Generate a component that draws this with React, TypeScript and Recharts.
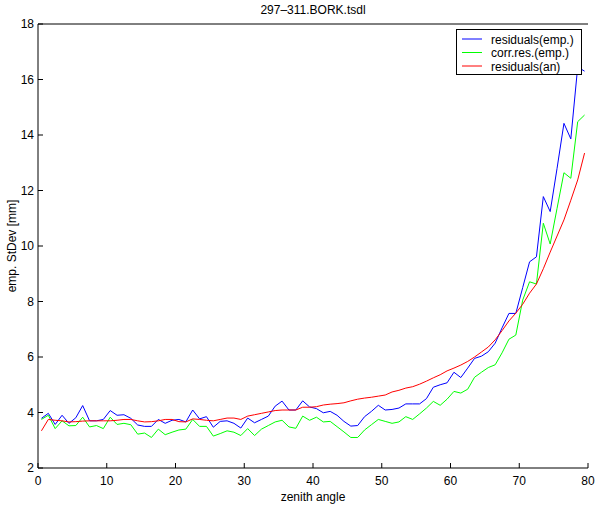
import React from "react";
import {
  LineChart,
  Line,
  XAxis,
  YAxis,
  Legend,
  Label,
} from "recharts";

// zenith angle of each sample (deg)
const angles = [
  0.5, 1.5, 2.5, 3.5, 4.5, 5.5, 6.5, 7.5, 8.5, 9.5,
  10.5, 11.5, 12.5, 13.5, 14.5, 15.5, 16.5, 17.5, 18.5, 19.5,
  20.5, 21.5, 22.5, 23.5, 24.5, 25.5, 26.5, 27.5, 28.5, 29.5,
  30.5, 31.5, 32.5, 33.5, 34.5, 35.5, 36.5, 37.5, 38.5, 39.5,
  40.5, 41.5, 42.5, 43.5, 44.5, 45.5, 46.5, 47.5, 48.5, 49.5,
  50.5, 51.5, 52.5, 53.5, 54.5, 55.5, 56.5, 57.5, 58.5, 59.5,
  60.5, 61.5, 62.5, 63.5, 64.5, 65.5, 66.5, 67.5, 68.5, 69.5,
  70.5, 71.5, 72.5, 73.5, 74.5, 75.5, 76.5, 77.5, 78.5, 79.5,
];

const residEmp = [
  3.79, 3.97, 3.57, 3.9, 3.61, 3.81, 4.25, 3.7, 3.7, 3.75,
  4.07, 3.9, 3.92, 3.79, 3.55, 3.5, 3.5, 3.75, 3.61, 3.72,
  3.75, 3.66, 4.09, 3.77, 3.85, 3.47, 3.68, 3.7, 3.61, 3.44,
  3.8, 3.63, 3.75, 3.87, 4.23, 4.41, 4.09, 4.09, 4.42, 4.2,
  4.14, 3.99, 4.04, 3.9, 3.68, 3.51, 3.53, 3.85, 4.04, 4.26,
  4.09, 4.11, 4.16, 4.31, 4.31, 4.31, 4.5, 4.91, 5.0, 5.07,
  5.45, 5.26, 5.6, 5.95, 6.03, 6.19, 6.5, 7.05, 7.57, 7.57,
  8.5, 9.43, 9.61, 11.78, 11.24, 12.8, 14.42, 13.86, 16.45, 16.3,
];

const corrResEmp = [
  3.75, 3.9, 3.42, 3.7, 3.52, 3.53, 3.83, 3.48, 3.53, 3.42,
  3.83, 3.57, 3.61, 3.56, 3.22, 3.26, 3.1, 3.4, 3.2, 3.29,
  3.37, 3.4, 3.75, 3.5, 3.5, 3.15, 3.24, 3.34, 3.29, 3.17,
  3.42, 3.17, 3.4, 3.53, 3.66, 3.72, 3.48, 3.43, 3.87, 3.72,
  3.83, 3.66, 3.68, 3.49, 3.3, 3.1, 3.1, 3.37, 3.56, 3.75,
  3.68, 3.61, 3.66, 3.85, 3.75, 3.95, 4.16, 4.4, 4.26, 4.48,
  4.76, 4.7, 4.84, 5.27, 5.45, 5.62, 5.72, 6.15, 6.64, 6.79,
  8.05, 8.71, 8.63, 10.82, 10.07, 11.36, 12.64, 12.44, 14.48, 14.72,
];

const residAn = [
  3.34, 3.75, 3.72, 3.7, 3.66, 3.67, 3.69, 3.7, 3.7, 3.7,
  3.7, 3.72, 3.75, 3.75, 3.7, 3.66, 3.67, 3.7, 3.75, 3.75,
  3.67, 3.66, 3.77, 3.75, 3.72, 3.7, 3.75, 3.8, 3.8, 3.75,
  3.87, 3.92, 3.97, 4.02, 4.07, 4.09, 4.09, 4.09, 4.19, 4.19,
  4.21, 4.27, 4.3, 4.32, 4.35, 4.42, 4.48, 4.52, 4.55, 4.59,
  4.63, 4.74, 4.8, 4.88, 4.93, 5.02, 5.13, 5.25, 5.36, 5.5,
  5.6, 5.71, 5.84, 6.0, 6.18, 6.36, 6.62, 6.95, 7.3, 7.58,
  7.9, 8.3, 8.63, 9.18, 9.78, 10.36, 10.94, 11.65, 12.38, 13.35,
];

const xTicks = [0, 10, 20, 30, 40, 50, 60, 70, 80];
const yTicks = [2, 4, 6, 8, 10, 12, 14, 16, 18];

const series = [
  { key: "emp", name: "residuals(emp.)", color: "#0000ff" },
  { key: "corr", name: "corr.res.(emp.)", color: "#00ff00" },
  { key: "an", name: "residuals(an)", color: "#ff0000" },
];

const data = angles.map((a, i) => ({
  angle: a,
  emp: residEmp[i],
  corr: corrResEmp[i],
  an: residAn[i],
}));

const font = "'Liberation Sans', Arial, Helvetica, sans-serif";
const tickStyle = { fill: "#000", fontSize: 12 };

const LegendBox = () => (
  <svg width={127} height={47} style={{ display: "block" }}>
    <rect x={0.5} y={0.5} width={125} height={45} fill="#fff" stroke="#000" />
    {series.map((s, i) => (
      <g key={s.key}>
        <line x1={6} x2={26} y1={10 + i * 13.5} y2={10 + i * 13.5} stroke={s.color} />
        <text x={35} y={14.5 + i * 13.5} fontSize={12} fill="#000" fontFamily={font}>
          {s.name}
        </text>
      </g>
    ))}
  </svg>
);

export default function App() {
  return (
    <div style={{ position: "absolute", left: 0, top: 0, fontFamily: font, background: "#fff" }}>
      <LineChart
        width={600}
        height={507}
        data={data}
        margin={{ top: 0, right: 12, left: 0, bottom: 0 }}
      >
        <XAxis
          dataKey="angle"
          type="number"
          domain={[0, 80]}
          ticks={xTicks}
          interval={0}
          height={39}
          stroke="#000"
          tick={tickStyle}
          tickSize={-5}
          tickMargin={13}
        >
          <Label value="zenith angle" position="insideBottom" offset={6} fill="#000" fontSize={12} />
        </XAxis>
        <XAxis
          xAxisId="top"
          dataKey="angle"
          type="number"
          orientation="top"
          domain={[0, 80]}
          ticks={xTicks}
          interval={0}
          height={24}
          stroke="#000"
          tick={false}
          tickSize={-5}
        >
          <Label value="297–311.BORK.tsdl" position="insideTop" offset={5} fill="#000" fontSize={12} />
        </XAxis>
        <YAxis
          type="number"
          domain={[2, 18]}
          ticks={yTicks}
          interval={0}
          allowDataOverflow
          width={38}
          stroke="#000"
          tick={tickStyle}
          tickSize={-5}
          tickMargin={9}
        >
          <Label
            value="emp. StDev [mm]"
            angle={-90}
            position="insideLeft"
            offset={12}
            fill="#000"
            fontSize={12}
            style={{ textAnchor: "middle" }}
          />
        </YAxis>
        <YAxis
          yAxisId="right"
          orientation="right"
          type="number"
          domain={[2, 18]}
          ticks={yTicks}
          interval={0}
          width={0}
          stroke="#000"
          tick={false}
          tickSize={-5}
        />
        {series.map((s) => (
          <Line
            key={s.key}
            dataKey={s.key}
            name={s.name}
            type="linear"
            stroke={s.color}
            strokeWidth={1}
            dot={false}
            activeDot={false}
            isAnimationActive={false}
          />
        ))}
        <Legend
          layout="vertical"
          align="center"
          verticalAlign="middle"
          wrapperStyle={{ top: 29, left: 456, width: 127, height: 47 }}
          content={() => <LegendBox />}
        />
      </LineChart>
    </div>
  );
}
